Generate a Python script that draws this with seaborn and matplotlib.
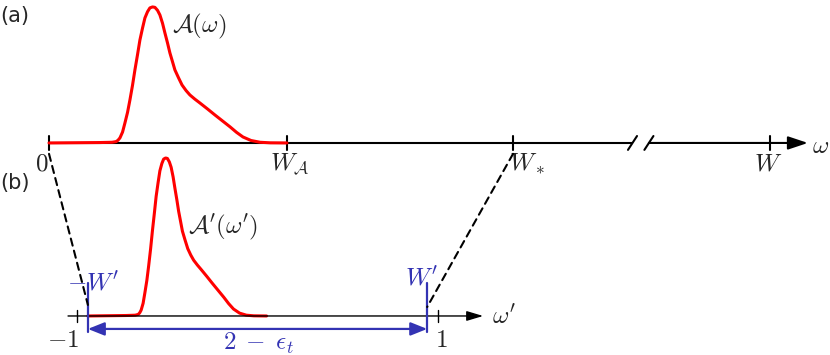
import numpy as np
import matplotlib
matplotlib.use("Agg")
import matplotlib.pyplot as plt
from matplotlib.patches import ConnectionPatch
import seaborn as sns

# spectral shape A(w), w in units of W_A, peak normalised to 1
shape_w = [0.0, 0.214, 0.265, 0.282, 0.290, 0.298, 0.309, 0.319, 0.330, 0.340,
           0.351, 0.361, 0.372, 0.382, 0.393, 0.403, 0.414, 0.424, 0.435, 0.445,
           0.456, 0.466, 0.477, 0.487, 0.498, 0.508, 0.519, 0.529, 0.544, 0.559,
           0.576, 0.592, 0.613, 0.634, 0.666, 0.697, 0.729, 0.761, 0.788, 0.815,
           0.849, 0.887, 0.929, 1.0]
shape_a = [0.0, 0.003, 0.005, 0.010, 0.020, 0.037, 0.080, 0.147, 0.225, 0.316,
           0.425, 0.537, 0.650, 0.757, 0.845, 0.919, 0.965, 0.993, 1.0, 0.997,
           0.975, 0.941, 0.880, 0.809, 0.735, 0.662, 0.597, 0.537, 0.480, 0.426,
           0.385, 0.353, 0.322, 0.294, 0.250, 0.206, 0.162, 0.118, 0.078, 0.044,
           0.018, 0.005, 0.001, 0.0]

# energy scales of panel (a)
W_A = 1.0
W_star = 1.95
W_full = 3.03
top_ticks = [0.0, W_A, W_star, W_full]
top_labels = [r'$0$', r'$W_{\mathcal{A}}$', r'$W_*$', r'$W$']
break_at = [2.452, 2.521]

# rescaled window of panel (b)
W_prime = 0.94
A_prime_end = 0.05   # where the rescaled curve reaches zero again
bot_ticks = [-1.0, 1.0]
bot_labels = [r'$-1$', r'$1$']

RED = '#ff0000'
BLUE = '#3333b3'
FS = 18

sns.set_style('white')
plt.rcParams['mathtext.fontset'] = 'cm'
plt.rcParams['font.family'] = ['DejaVu Sans']

fig = plt.figure(figsize=(8.3, 3.55), dpi=100)
ax_a = fig.add_axes([0, 0, 1, 1])
ax_b = fig.add_axes([0, 0, 1, 1])
for ax in (ax_a, ax_b):
    ax.set_axis_off()
    ax.patch.set_alpha(0)
ax_a.set_xlim(-0.206, 3.282)
ax_a.set_ylim(-1.559, 1.051)
ax_b.set_xlim(-1.427, 3.172)
ax_b.set_ylim(-0.247, 2.0)

# ---- panel (a)
w = np.array(shape_w) * W_A
sns.lineplot(x=w, y=shape_a, ax=ax_a, color=RED, lw=2.2, zorder=3)
ax_a.plot([0, break_at[0]], [0, 0], color='black', lw=1.5, zorder=2)
ax_a.annotate('', xy=(3.189, 0), xytext=(break_at[1], 0),
              arrowprops=dict(arrowstyle='-|>,head_length=0.6,head_width=0.2',
                              mutation_scale=20, lw=1.5, color='black',
                              shrinkA=0, shrinkB=0))
for b in break_at:
    ax_a.plot([b - 0.019, b + 0.019], [-0.051, 0.051], color='black', lw=1.5)
for t in top_ticks:
    ax_a.plot([t, t], [-0.05, 0.05], color='black', lw=1.5)
ax_a.text(-0.03, -0.2, top_labels[0], ha='center', va='baseline', fontsize=FS)
ax_a.text(W_A + 0.01, -0.2, top_labels[1], ha='center', va='baseline', fontsize=FS)
ax_a.text(W_star - 0.015, -0.2, top_labels[2], ha='left', va='baseline', fontsize=FS)
ax_a.text(W_full - 0.01, -0.2, top_labels[3], ha='center', va='baseline', fontsize=FS)
ax_a.text(3.206, -0.02, r'$\omega$', ha='left', va='center', fontsize=FS)
ax_a.text(0.517, 0.86, r'$\mathcal{A}(\omega)$', ha='left', va='center', fontsize=FS)

# ---- panel (b): same curve squeezed into the window starting at -W'
wp = -W_prime + (A_prime_end + W_prime) * w / W_A
sns.lineplot(x=wp, y=shape_a, ax=ax_b, color=RED, lw=2.2, zorder=3)
ax_b.annotate('', xy=(1.25, 0), xytext=(-1.05, 0),
              arrowprops=dict(arrowstyle='-|>,head_length=0.5,head_width=0.15',
                              mutation_scale=20, lw=1.0, color='black',
                              shrinkA=0, shrinkB=0))
for t in bot_ticks:
    ax_b.plot([t, t], [-0.035, 0.035], color='black', lw=1.0)
ax_b.text(-0.99, -0.196, bot_labels[0], ha='right', va='baseline', fontsize=FS)
ax_b.text(1.017, -0.196, bot_labels[1], ha='center', va='baseline', fontsize=FS)
ax_b.text(1.3, -0.05, r"$\omega'$", ha='left', va='baseline', fontsize=FS)
ax_b.text(-0.385, 0.56, r"$\mathcal{A}'(\omega')$", ha='left', va='center', fontsize=FS)

for s in (-1, 1):
    ax_b.plot([s * W_prime, s * W_prime], [-0.101, 0.209], color=BLUE, lw=1.6, zorder=4)
ax_b.annotate('', xy=(W_prime, -0.082), xytext=(-W_prime, -0.082),
              arrowprops=dict(arrowstyle='<|-|>,head_length=0.5,head_width=0.2',
                              mutation_scale=20, lw=1.6, color=BLUE,
                              shrinkA=0, shrinkB=0))
ax_b.text(-W_prime + 0.03, 0.165, r"$-W'$", ha='center', va='baseline', fontsize=FS, color=BLUE)
ax_b.text(W_prime - 0.03, 0.196, r"$W'$", ha='center', va='baseline', fontsize=FS, color=BLUE)
ax_b.text(0.003, -0.215, r'$2\;-\;\epsilon_t$', ha='center', va='baseline', fontsize=FS, color=BLUE)

# dashed guides from (a) to (b)
for p_a, p_b in [((0.0, -0.08), (-W_prime, 0.07)), ((W_star, -0.08), (W_prime, 0.057))]:
    con = ConnectionPatch(xyA=p_a, coordsA=ax_a.transData, xyB=p_b, coordsB=ax_b.transData,
                          color='black', lw=1.5, linestyle=(0, (3.5, 2.5)))
    fig.add_artist(con)

fig.text(0.0, 1 - 16 / 355, '(a)', ha='left', va='center', fontsize=15)
fig.text(0.0, 1 - 183 / 355, '(b)', ha='left', va='center', fontsize=15)

fig.savefig('out.png', dpi=100)
